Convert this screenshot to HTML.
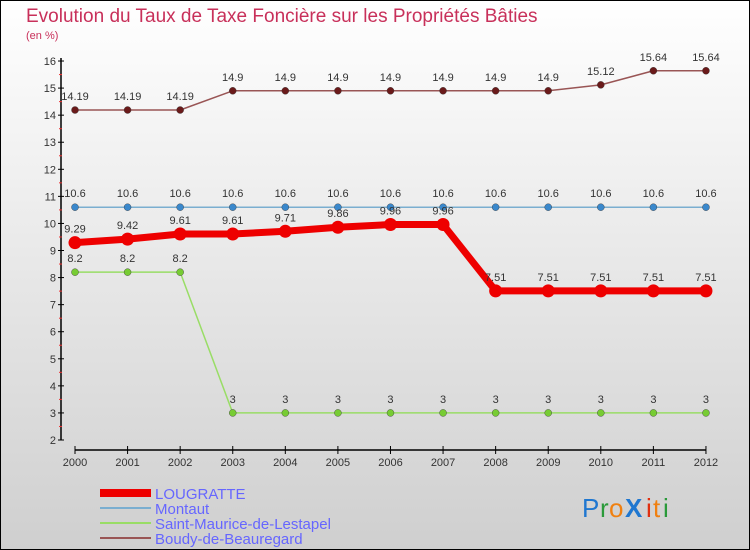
<!DOCTYPE html>
<html><head><meta charset="utf-8"><style>
body{margin:0}
#c{width:750px;height:550px;position:relative;overflow:hidden;font-family:"Liberation Sans",sans-serif}
svg text{font-family:"Liberation Sans",sans-serif}
</style></head><body>
<div id="c">
<svg id="s" width="750" height="550" xmlns="http://www.w3.org/2000/svg">
<defs><linearGradient id="bg" x1="0" y1="0" x2="0" y2="1"><stop offset="0" stop-color="#ffffff"/><stop offset="1" stop-color="#cfcfcf"/></linearGradient></defs>
<rect x="0.5" y="0.5" width="749" height="549" fill="url(#bg)" stroke="#000"/>
<text x="26" y="22" font-size="19" fill="#c8305a">Evolution du Taux de Taxe Foncière sur les Propriétés Bâties</text>
<text x="26" y="39" font-size="11" fill="#c8305a">(en %)</text>
<g id="axes"></g><g id="series"></g>
<g>
<rect x="100" y="489" width="51" height="8" fill="#ee0000"/>
<text x="155" y="499" font-size="15" fill="#6666ff">LOUGRATTE</text>
<rect x="100" y="507" width="51" height="2" fill="#7aaed0"/>
<text x="155" y="514" font-size="15" fill="#6666ff">Montaut</text>
<rect x="100" y="522" width="51" height="2" fill="#99dd66"/>
<text x="155" y="529" font-size="15" fill="#6666ff">Saint-Maurice-de-Lestapel</text>
<rect x="100" y="537" width="51" height="2" fill="#995555"/>
<text x="155" y="544" font-size="15" fill="#6666ff">Boudy-de-Beauregard</text>
</g>
<g font-size="26">
<text x="582" y="517" fill="#1f77d0">P</text>
<text x="600" y="517" fill="#2a9a3a">r</text>
<text x="609" y="517" fill="#f08010">o</text>
<text x="625" y="517" fill="#1f77d0" font-weight="bold">X</text>
<text x="646" y="517" fill="#e03010">i</text>
<text x="653" y="517" fill="#f08010">t</text>
<text x="663" y="517" fill="#2a9a3a">i</text>
</g>
</svg></div>
<script>
const years=["2000","2001","2002","2003","2004","2005","2006","2007","2008","2009","2010","2011","2012"];
const yTicks=[2,3,4,5,6,7,8,9,10,11,12,13,14,15,16];
const lougratte=[9.29,9.42,9.61,9.61,9.71,9.86,9.96,9.96,7.51,7.51,7.51,7.51,7.51];
const montaut=[10.6,10.6,10.6,10.6,10.6,10.6,10.6,10.6,10.6,10.6,10.6,10.6,10.6];
const stMaurice=[8.2,8.2,8.2,3,3,3,3,3,3,3,3,3,3];
const boudy=[14.19,14.19,14.19,14.9,14.9,14.9,14.9,14.9,14.9,14.9,15.12,15.64,15.64];
const NS="http://www.w3.org/2000/svg";
const x=i=>75+i*52.58;
const y=v=>440-(v-2)*27.07;
function mk(p,t,a){const e=document.createElementNS(NS,t);for(const k in a)e.setAttribute(k,a[k]);p.appendChild(e);return e;}
const ax=document.getElementById('axes');
let l=mk(ax,'line',{x1:61,y1:y(16)-3,x2:61,y2:440,stroke:'#000','stroke-width':1.5});


l=mk(ax,'line',{x1:75,y1:450,x2:706,y2:450,stroke:'#000','stroke-width':1.5});


yTicks.forEach(v=>{
 mk(ax,'line',{x1:58,y1:y(v),x2:64,y2:y(v),stroke:'#000'});
 if(v<16)mk(ax,'line',{x1:59,y1:y(v+0.5),x2:62,y2:y(v+0.5),stroke:'#e33'});
 const t=mk(ax,'text',{x:56,y:y(v)+4,'font-size':11,'text-anchor':'end',fill:'#333'});t.textContent=v;
 
 
});
years.forEach((yr,i)=>{
 mk(ax,'line',{x1:x(i),y1:446,x2:x(i),y2:454,stroke:'#000'});
 const t=mk(ax,'text',{x:x(i),y:466,'font-size':11,'text-anchor':'middle',fill:'#333'});t.textContent=yr;
 
 
});
const sg=document.getElementById('series');
function series(name,data,color,w,r,dot){
 const g=mk(sg,'g',{});
 
 
 const p=mk(g,'polyline',{points:data.map((v,i)=>x(i)+','+y(v)).join(' '),fill:'none',stroke:color,'stroke-width':w,'stroke-linejoin':'round'});
 
 
 data.forEach((v,i)=>{
  const c=mk(g,'circle',{cx:x(i),cy:y(v),r:r,fill:dot,stroke:dot==='#ee0000'?'none':'#333','stroke-width':0.4});
  
  
  const t=mk(g,'text',{x:x(i),y:y(v)-10,'font-size':11,'text-anchor':'middle',fill:'#333'});t.textContent=v;
  
  
 });
}
series('montaut',montaut,'#7aaed0',1.5,3.5,'#3a88cc');
series('saint-maurice',stMaurice,'#99dd66',1.5,3.5,'#77cc33');
series('boudy',boudy,'#995555',1.5,3.5,'#6a1a1a');
series('lougratte',lougratte,'#ee0000',7,6.5,'#ee0000');
</script>
</body></html>
